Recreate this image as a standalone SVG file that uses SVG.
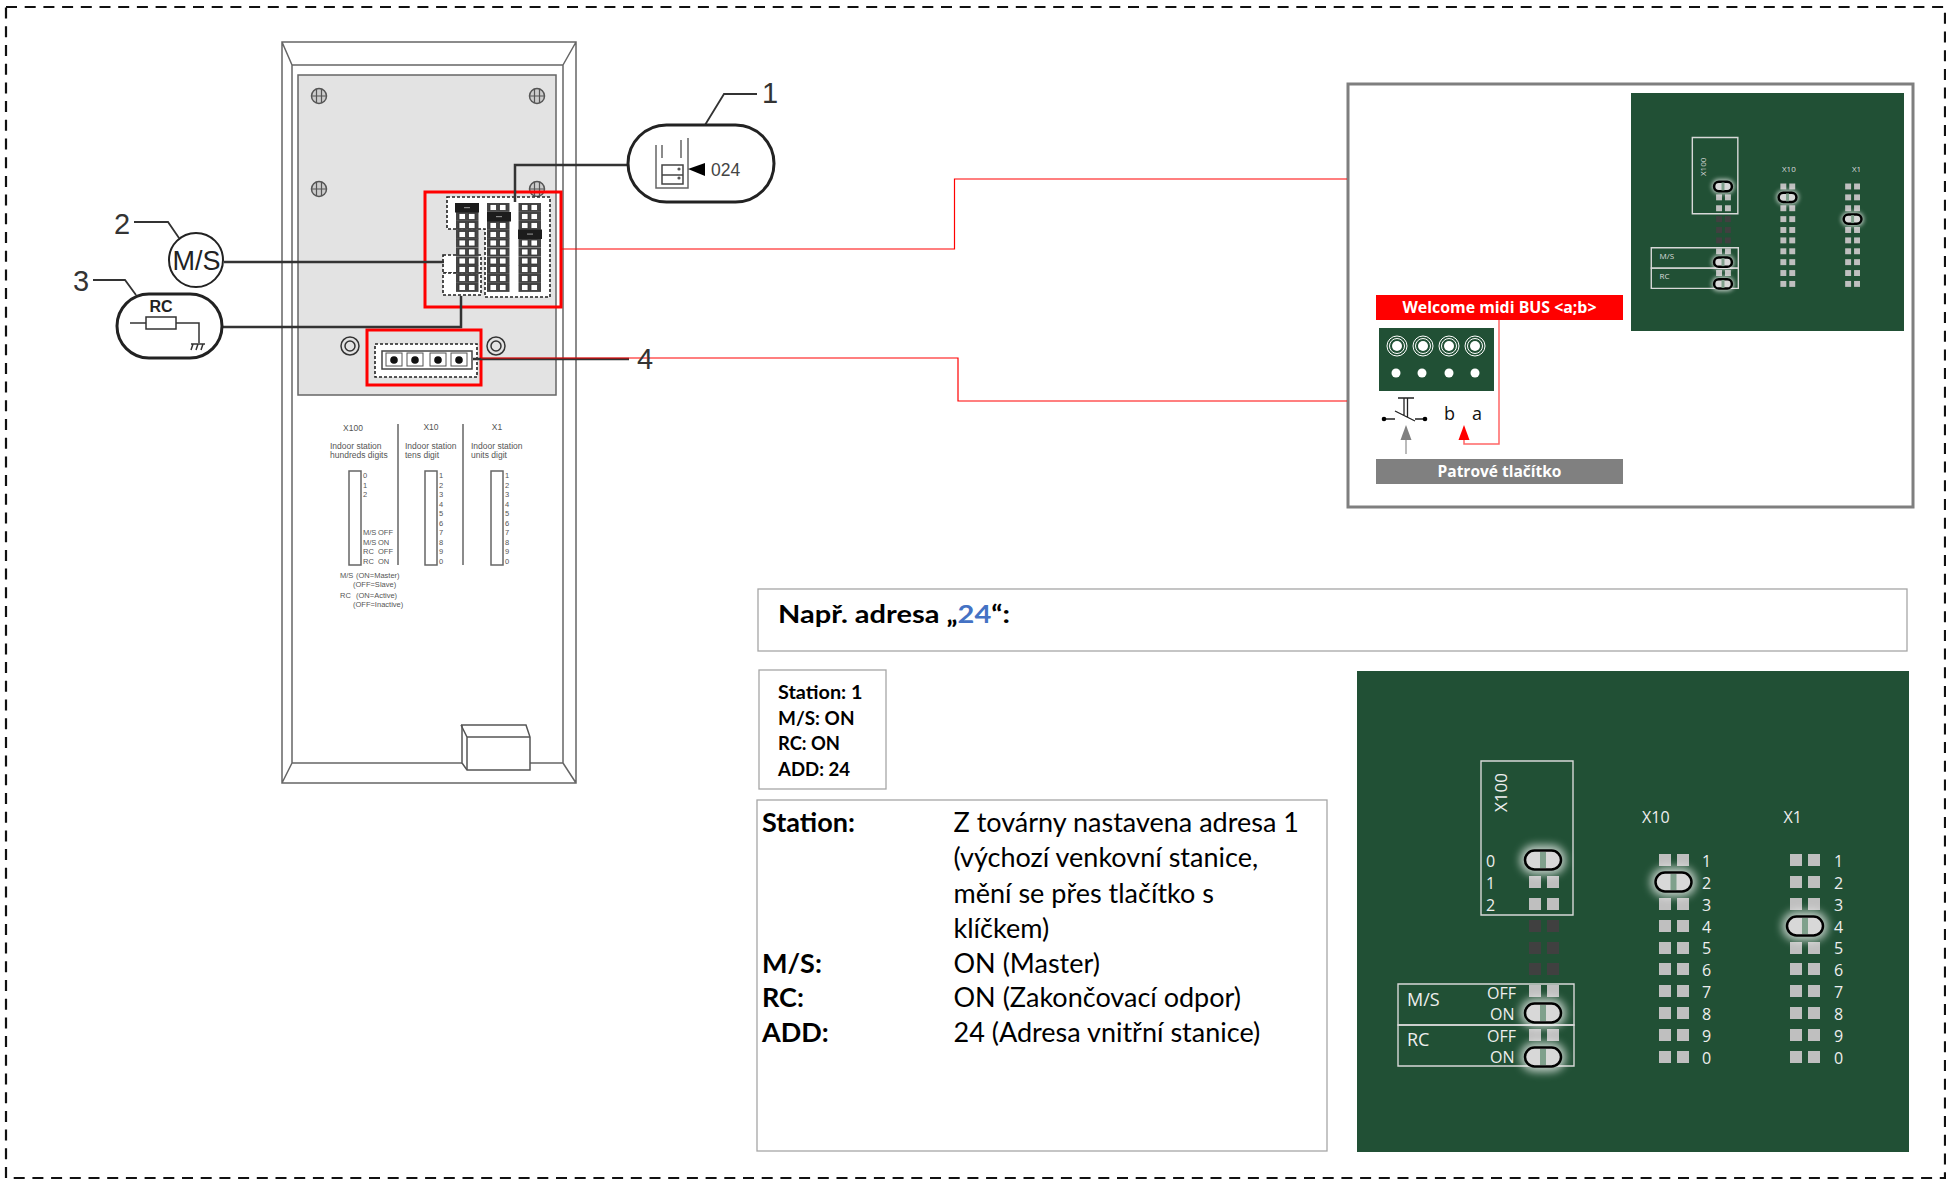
<svg xmlns="http://www.w3.org/2000/svg" xmlns:xlink="http://www.w3.org/1999/xlink" width="1946" height="1182" viewBox="0 0 1946 1182" font-family="'Liberation Sans',Arial,sans-serif">
<style>
.hw{fill:none;stroke:#666;stroke-width:1.5}
.lead{fill:none;stroke:#333;stroke-width:2.5}
.thin{stroke-width:1.8}
.red{fill:none;stroke:#f00;stroke-width:3}
.redl{fill:none;stroke:#f00;stroke-width:1.2}
.dash{fill:#fff;stroke:#222;stroke-width:1.6;stroke-dasharray:3 2}
.small{font-size:7.5px;fill:#555}
.head{font-size:8.5px;fill:#555}
.num{font-size:29px;fill:#333}
.cal{font-family:Lato,"Open Sans",sans-serif;fill:#000}
.pcb{font-family:"Open Sans","Noto Sans",sans-serif;fill:#eee;font-size:16px}
.pcbs{font-family:"Open Sans","Noto Sans",sans-serif;fill:#ddd;font-size:8px}
.ban{font-family:"Open Sans","Noto Sans",sans-serif;font-weight:700;font-size:15.5px;fill:#fff;text-anchor:middle}
.lbl{font-family:"Open Sans","Noto Sans",sans-serif;font-size:18px;fill:#111}
.box{fill:#fff;stroke:#a6a6a6;stroke-width:1.3}
.outl{fill:none;stroke:#d8d8d8;stroke-width:1.4;vector-effect:non-scaling-stroke}
.jmp{fill:#d8d8d8;stroke:#000;stroke-width:2.5;vector-effect:non-scaling-stroke}
</style>
<defs>
<filter id="blur" x="-50%" y="-80%" width="200%" height="260%"><feGaussianBlur stdDeviation="4"/></filter>
<g id="pair"><rect width="12" height="12"/><rect x="18" width="12" height="12"/></g>
<g id="jump">
<rect x="-23" y="-15" width="46" height="30" rx="15" fill="#fff" opacity=".7" filter="url(#blur)"/>
<rect class="jmp" x="-18" y="-9.5" width="36" height="19" rx="9.5"/>
<rect x="-3" y="-8" width="6" height="16" fill="#7fa08c"/>
</g>
<g id="board">
<rect class="outl" x="1481" y="761" width="92" height="154"/>
<rect class="outl" x="1398" y="984" width="176" height="41"/>
<rect class="outl" x="1398" y="1025" width="176" height="41"/>
<g fill="#bfbfbf">
<use xlink:href="#pair" href="#pair" x="1529" y="876"/><use xlink:href="#pair" href="#pair" x="1529" y="898"/>
<use xlink:href="#pair" href="#pair" x="1529" y="985"/><use xlink:href="#pair" href="#pair" x="1529" y="1029"/>
<g fill="#404040"><use xlink:href="#pair" href="#pair" x="1529" y="920"/><use xlink:href="#pair" href="#pair" x="1529" y="942"/><use xlink:href="#pair" href="#pair" x="1529" y="963"/></g>
<use xlink:href="#pair" href="#pair" x="1659" y="854"/><use xlink:href="#pair" href="#pair" x="1659" y="898"/><use xlink:href="#pair" href="#pair" x="1659" y="920"/><use xlink:href="#pair" href="#pair" x="1659" y="942"/><use xlink:href="#pair" href="#pair" x="1659" y="963"/><use xlink:href="#pair" href="#pair" x="1659" y="985"/><use xlink:href="#pair" href="#pair" x="1659" y="1007"/><use xlink:href="#pair" href="#pair" x="1659" y="1029"/><use xlink:href="#pair" href="#pair" x="1659" y="1051"/>
<use xlink:href="#pair" href="#pair" x="1790" y="854"/><use xlink:href="#pair" href="#pair" x="1790" y="876"/><use xlink:href="#pair" href="#pair" x="1790" y="898"/><use xlink:href="#pair" href="#pair" x="1790" y="942"/><use xlink:href="#pair" href="#pair" x="1790" y="963"/><use xlink:href="#pair" href="#pair" x="1790" y="985"/><use xlink:href="#pair" href="#pair" x="1790" y="1007"/><use xlink:href="#pair" href="#pair" x="1790" y="1029"/><use xlink:href="#pair" href="#pair" x="1790" y="1051"/>
</g>
<use xlink:href="#jump" href="#jump" x="1543" y="860"/><use xlink:href="#jump" href="#jump" x="1673.5" y="882"/><use xlink:href="#jump" href="#jump" x="1805" y="926"/><use xlink:href="#jump" href="#jump" x="1543" y="1013"/><use xlink:href="#jump" href="#jump" x="1543" y="1057"/>
</g>
<g id="hp"><rect width="22.5" height="8.9" fill="#444"/><rect x="3" y="1.5" width="6.5" height="6" fill="#fff" stroke="#333" stroke-width=".8"/><rect x="12.5" y="1.5" width="6.5" height="6" fill="#fff" stroke="#333" stroke-width=".8"/></g>
<g id="hj"><rect width="24" height="9.5" fill="#1c1c1c"/><rect x="9" y="4" width="6" height="1.2" fill="#888"/></g>
<g id="screw"><circle r="7.5" fill="#ccc" stroke="#555" stroke-width="1.5"/><path d="M-7 0H7M-2.5-7V7M2.5-7V7" stroke="#555" stroke-width="1.2" fill="none"/></g>
<g id="ring"><circle r="9" fill="#e3e3e3" stroke="#333" stroke-width="1.5"/><circle r="5" fill="#e3e3e3" stroke="#333" stroke-width="1.5"/></g>
<g id="tb"><circle r="10" fill="none" stroke="#fff" stroke-width="1"/><circle r="7.5" fill="none" stroke="#fff" stroke-width="1"/><circle r="5" fill="#fff"/></g>
</defs>

<rect width="1946" height="1182" fill="#fff"/>
<rect id="frame" x="6" y="7" width="1939" height="1171" fill="none" stroke="#111" stroke-width="2.2" stroke-dasharray="11 7.7"/>

<g id="housing">
<path class="hw" d="M282 42H576V783H282ZM292 65H563V763H292ZM282 42L292 65M576 42L563 65M282 783L292 763M576 783L563 763"/>
<rect x="298" y="75" width="258" height="320" fill="#e3e3e3" stroke="#666" stroke-width="1.5"/>
<use xlink:href="#screw" href="#screw" x="319" y="96"/><use xlink:href="#screw" href="#screw" x="537" y="96"/><use xlink:href="#screw" href="#screw" x="319" y="189"/><use xlink:href="#screw" href="#screw" x="537" y="189"/>
<use xlink:href="#ring" href="#ring" x="350" y="346"/><use xlink:href="#ring" href="#ring" x="496" y="346"/>
<path fill="#fff" stroke="#555" stroke-width="1.5" d="M461 725H526L530 737V770H467L462 763V725Z"/>
<path fill="none" stroke="#555" stroke-width="1.5" d="M461 725L467 737H530M467 737V770"/>
<path class="hw" d="M398 424V565M463 424V565"/><rect class="hw" x="349" y="471" width="12" height="94"/><rect class="hw" x="425" y="471" width="12" height="94"/><rect class="hw" x="491" y="471" width="12" height="94"/>
<text class="head" x="353" y="431" text-anchor="middle">X100</text><text class="head" x="431" y="430" text-anchor="middle">X10</text><text class="head" x="497" y="430" text-anchor="middle">X1</text>
<text class="head" x="330" y="449">Indoor station</text><text class="head" x="330" y="458">hundreds digits</text>
<text class="head" x="405" y="449">Indoor station</text><text class="head" x="405" y="458">tens digit</text>
<text class="head" x="471" y="449">Indoor station</text><text class="head" x="471" y="458">units digit</text>
<g class="small">
<text x="363" y="478">0</text><text x="363" y="487.5">1</text><text x="363" y="497">2</text>
<text x="363" y="535">M/S</text><text x="378" y="535">OFF</text><text x="363" y="544.5">M/S</text><text x="378" y="544.5">ON</text><text x="363" y="554">RC</text><text x="378" y="554">OFF</text><text x="363" y="563.5">RC</text><text x="378" y="563.5">ON</text>
<text x="439" y="478">1</text><text x="439" y="487.5">2</text><text x="439" y="497">3</text><text x="439" y="506.5">4</text><text x="439" y="516">5</text><text x="439" y="525.5">6</text><text x="439" y="535">7</text><text x="439" y="544.5">8</text><text x="439" y="554">9</text><text x="439" y="563.5">0</text>
<text x="505" y="478">1</text><text x="505" y="487.5">2</text><text x="505" y="497">3</text><text x="505" y="506.5">4</text><text x="505" y="516">5</text><text x="505" y="525.5">6</text><text x="505" y="535">7</text><text x="505" y="544.5">8</text><text x="505" y="554">9</text><text x="505" y="563.5">0</text>
<text x="340" y="578">M/S</text><text x="356" y="578">(ON=Master)</text><text x="353" y="587">(OFF=Slave)</text>
<text x="340" y="598">RC</text><text x="356" y="598">(ON=Active)</text><text x="353" y="607">(OFF=Inactive)</text>
</g>
</g>

<g id="dip-switches">
<path class="dash" d="M447 197H550V297H485V229H447Z"/>
<rect class="dash" x="443" y="255" width="38" height="18"/>
<rect class="dash" x="443" y="273" width="38" height="22"/>
<g id="pins-x100">
<use xlink:href="#hp" href="#hp" x="456" y="212"/><use xlink:href="#hp" href="#hp" x="456" y="221"/><use xlink:href="#hp" href="#hp" x="456" y="230"/><use xlink:href="#hp" href="#hp" x="456" y="238.5"/><use xlink:href="#hp" href="#hp" x="456" y="247.5"/><use xlink:href="#hp" href="#hp" x="456" y="256.5"/><use xlink:href="#hp" href="#hp" x="456" y="265"/><use xlink:href="#hp" href="#hp" x="456" y="274"/><use xlink:href="#hp" href="#hp" x="456" y="283"/>
<use xlink:href="#hj" href="#hj" x="455" y="203"/>
</g>
<g id="pins-x10">
<use xlink:href="#hp" href="#hp" x="487" y="203"/><use xlink:href="#hp" href="#hp" x="487" y="221"/><use xlink:href="#hp" href="#hp" x="487" y="230"/><use xlink:href="#hp" href="#hp" x="487" y="238.5"/><use xlink:href="#hp" href="#hp" x="487" y="247.5"/><use xlink:href="#hp" href="#hp" x="487" y="256.5"/><use xlink:href="#hp" href="#hp" x="487" y="265"/><use xlink:href="#hp" href="#hp" x="487" y="274"/><use xlink:href="#hp" href="#hp" x="487" y="283"/>
<use xlink:href="#hj" href="#hj" x="487" y="212"/>
</g>
<g id="pins-x1">
<use xlink:href="#hp" href="#hp" x="518.5" y="203"/><use xlink:href="#hp" href="#hp" x="518.5" y="212"/><use xlink:href="#hp" href="#hp" x="518.5" y="221"/><use xlink:href="#hp" href="#hp" x="518.5" y="238.5"/><use xlink:href="#hp" href="#hp" x="518.5" y="247.5"/><use xlink:href="#hp" href="#hp" x="518.5" y="256.5"/><use xlink:href="#hp" href="#hp" x="518.5" y="265"/><use xlink:href="#hp" href="#hp" x="518.5" y="274"/><use xlink:href="#hp" href="#hp" x="518.5" y="283"/>
<use xlink:href="#hj" href="#hj" x="518" y="229.5"/>
</g>
</g>

<g id="terminal-block">
<rect class="dash" x="375" y="344" width="102" height="33"/>
<rect x="382" y="351" width="90" height="18" fill="#fff" stroke="#444" stroke-width="1.5"/>
<g fill="#fff" stroke="#555" stroke-width="1"><rect x="386" y="353" width="16" height="13"/><rect x="407" y="353" width="16" height="13"/><rect x="430" y="353" width="16" height="13"/><rect x="451" y="353" width="16" height="13"/></g>
<g fill="#111"><circle cx="394" cy="360" r="3.8"/><circle cx="415" cy="360" r="3.8"/><circle cx="438" cy="360" r="3.8"/><circle cx="459" cy="360" r="3.8"/></g>
</g>

<g id="red-frames">
<rect class="red" x="425" y="192" width="136" height="115"/>
<rect class="red" x="367" y="330" width="114" height="55"/>
</g>

<g id="panel-wiring">
<rect x="1348" y="84" width="565" height="423" fill="#fff" stroke="#7f7f7f" stroke-width="3"/>
<rect x="1631" y="93" width="273" height="238" fill="#215035"/>
<g transform="translate(1631 93) scale(.4946) translate(-1357 -671)"><use xlink:href="#board" href="#board"/></g>
<text class="pcbs" transform="translate(1706 176) rotate(-90)">X100</text>
<text class="pcbs" x="1782" y="172">X10</text><text class="pcbs" x="1852" y="172">X1</text>
<text class="pcbs" x="1659.5" y="259">M/S</text><text class="pcbs" x="1659.5" y="279">RC</text>
</g>

<g id="connectors">
<path class="lead" d="M224 262H444"/>
<path class="lead" d="M222 327H461V296"/>
<path class="lead" d="M628 165H515V202"/>
<path class="lead" d="M473 359H629"/>
<path class="lead thin" d="M134 222H168L179 238"/>
<path class="lead thin" d="M93 280H125L136 295"/>
<path class="lead thin" d="M705 125L724 94H757"/>
<path class="redl" d="M561 249H954.5V179H1347"/>
<path class="redl" d="M481 358H958V401H1347"/>
<path d="M1499 320V444H1464V438" fill="none" stroke="#f66" stroke-width="1.5"/>
<path d="M1464 425L1469.5 440H1458.5Z" fill="#f00"/>
<path d="M1406 454V438" fill="none" stroke="#bbb" stroke-width="2"/>
<path d="M1406 425L1411.5 440H1400.5Z" fill="#808080"/>
</g>

<g id="callout-1">
<rect x="628" y="125" width="146" height="77" rx="38.5" fill="#fff" stroke="#222" stroke-width="3"/>
<path d="M656 145V188H688V138M662 145V158M681 140V158" fill="none" stroke="#666" stroke-width="1.5"/>
<path d="M662 165H683V184H662ZM662 175H683" fill="none" stroke="#444" stroke-width="1.5"/>
<circle cx="679" cy="169" r="1.6" fill="#555"/><circle cx="679" cy="178" r="1.6" fill="#555"/>
<path d="M688 169L705 163V176Z" fill="#000"/>
<text x="711" y="176" font-size="17.5" fill="#444">024</text>
<text class="num" x="762" y="103">1</text>
</g>
<g id="callout-2">
<circle cx="196" cy="260" r="27" fill="#fff" stroke="#222" stroke-width="2"/>
<text x="196.5" y="270" font-size="27" fill="#222" text-anchor="middle">M/S</text>
<text class="num" x="114" y="234">2</text>
</g>
<g id="callout-3">
<rect x="117" y="294" width="105" height="64" rx="32" fill="#fff" stroke="#222" stroke-width="3"/>
<text x="161" y="312" font-size="16" font-weight="700" fill="#222" text-anchor="middle">RC</text>
<path d="M130 323H146M176 323H199V343M191 344H205M193 344L191 350M198 344L196 350M203 344L201 350" fill="none" stroke="#333" stroke-width="1.5"/>
<rect x="146" y="317" width="30" height="12" fill="#fff" stroke="#333" stroke-width="1.5"/>
<text class="num" x="73" y="291">3</text>
</g>
<g id="callout-4"><text class="num" x="637" y="369">4</text></g>

<g id="bus-banner"><rect x="1376" y="295" width="247" height="25" fill="#f00"/><text class="ban" x="1499.5" y="313" textLength="194" lengthAdjust="spacingAndGlyphs">Welcome midi BUS &lt;a;b&gt;</text></g>
<g id="button-banner"><rect x="1376" y="459" width="247" height="25" fill="#808080"/><text class="ban" x="1499.5" y="477">Patrové tlačítko</text></g>
<g id="terminal-pcb">
<rect x="1379" y="328" width="115" height="63" fill="#215035"/>
<use xlink:href="#tb" href="#tb" x="1397" y="346"/><use xlink:href="#tb" href="#tb" x="1423" y="346"/><use xlink:href="#tb" href="#tb" x="1449" y="346"/><use xlink:href="#tb" href="#tb" x="1475" y="346"/>
<g fill="#fff"><circle cx="1396" cy="373" r="4.5"/><circle cx="1422" cy="373" r="4.5"/><circle cx="1449" cy="373" r="4.5"/><circle cx="1475" cy="373" r="4.5"/></g>
</g>
<g id="push-button">
<path d="M1384 419H1395M1395 411L1415 421M1415 419H1425M1398 398H1414M1404 398V415M1407.5 398V417" fill="none" stroke="#222" stroke-width="1.3"/>
<circle cx="1384" cy="419" r="2.3" fill="#000"/><circle cx="1425" cy="419" r="2.3" fill="#000"/>
<text class="lbl" x="1444" y="420">b</text>
<text class="lbl" x="1472" y="420">a</text>
</g>

<g id="heading"><rect class="box" x="758" y="589" width="1149" height="62"/>
<text class="cal" x="778" y="623" font-size="25" font-weight="700" textLength="232" lengthAdjust="spacingAndGlyphs">Např. adresa „<tspan fill="#4472c4">24</tspan>“:</text></g>
<g id="summary"><rect class="box" x="759" y="670" width="127" height="119"/>
<g class="cal" font-size="18" font-weight="700"><text x="778" y="699" textLength="84.500" lengthAdjust="spacingAndGlyphs">Station: 1</text><text x="778" y="725" textLength="76.500" lengthAdjust="spacingAndGlyphs">M/S: ON</text><text x="778" y="750" textLength="62" lengthAdjust="spacingAndGlyphs">RC: ON</text><text x="778" y="776" textLength="72" lengthAdjust="spacingAndGlyphs">ADD: 24</text></g></g>
<g id="legend"><rect class="box" x="757" y="800" width="570" height="351"/>
<g class="cal" font-size="27" font-weight="700"><text x="762" y="832">Station:</text><text x="762" y="973">M/S:</text><text x="762" y="1007">RC:</text><text x="762" y="1042">ADD:</text></g>
<g class="cal" font-size="27"><text x="953.5" y="832">Z továrny nastavena adresa 1</text><text x="953.5" y="867">(výchozí venkovní stanice,</text><text x="953.5" y="903">mění se přes tlačítko s</text><text x="953.5" y="938">klíčkem)</text><text x="953.5" y="973">ON (Master)</text><text x="953.5" y="1007">ON (Zakončovací odpor)</text><text x="953.5" y="1042">24 (Adresa vnitřní stanice)</text></g></g>

<g id="pcb-large">
<rect x="1357" y="671" width="552" height="481" fill="#215035"/>
<use xlink:href="#board" href="#board"/>
<g class="pcb">
<text transform="translate(1507 812) rotate(-90)" font-size="17">X100</text>
<text x="1642" y="823">X10</text><text x="1783.5" y="823">X1</text>
<text x="1486" y="867">0</text><text x="1486" y="889">1</text><text x="1486" y="911">2</text>
<text x="1407" y="1006" font-size="18">M/S</text><text x="1407" y="1046" font-size="18">RC</text>
<text x="1487" y="999">OFF</text><text x="1490" y="1020">ON</text><text x="1487" y="1042">OFF</text><text x="1490" y="1063">ON</text>
<text x="1702" y="867">1</text><text x="1702" y="889">2</text><text x="1702" y="911">3</text><text x="1702" y="933">4</text><text x="1702" y="954">5</text><text x="1702" y="976">6</text><text x="1702" y="998">7</text><text x="1702" y="1020">8</text><text x="1702" y="1042">9</text><text x="1702" y="1064">0</text>
<text x="1834" y="867">1</text><text x="1834" y="889">2</text><text x="1834" y="911">3</text><text x="1834" y="933">4</text><text x="1834" y="954">5</text><text x="1834" y="976">6</text><text x="1834" y="998">7</text><text x="1834" y="1020">8</text><text x="1834" y="1042">9</text><text x="1834" y="1064">0</text>
</g>
</g>
</svg>
